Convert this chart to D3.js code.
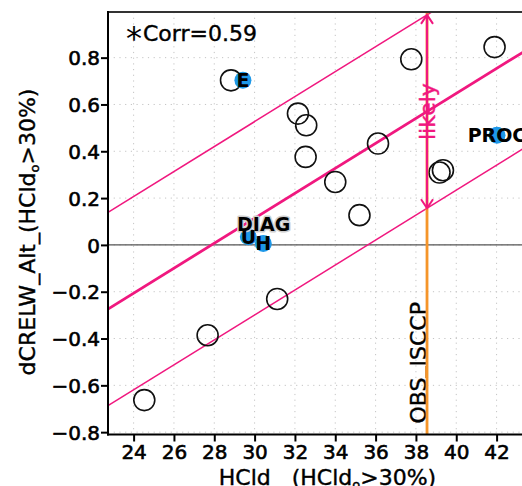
<!DOCTYPE html>
<html><head><meta charset="utf-8">
<script src="https://cdn.jsdelivr.net/npm/d3@7/dist/d3.min.js"></script>
<style>
html,body{margin:0;padding:0;background:#fff;}
svg{display:block;font-family:"DejaVu Sans",sans-serif;}
</style></head>
<body>
<svg id="c" width="522" height="486"></svg>
<script>
// ---- data ----
const modelX = [28.83, 32.15, 32.56, 32.53, 34.0, 36.12, 35.2, 37.77, 41.9, 39.17, 39.34, 31.12, 27.67, 24.53];
const modelY = [0.703, 0.561, 0.511, 0.376, 0.269, 0.433, 0.127, 0.793, 0.845, 0.309, 0.319, -0.231, -0.386, -0.663];
const obsLabels = ["E", "U", "H", "PROC"];
const obsX = [29.42, 29.69, 30.43, 42.02];
const obsY = [0.703, 0.035, 0.006, 0.468];
const diagLabel = ["DIAG"];
const diagX = [30.45];
const diagY = [0.089];
const regSlope = [0.05332];
const regIntercept = [-1.4859];
const bandHalfWidth = [0.413];
const obsIscpX = [38.55];
const xTicks = [24, 26, 28, 30, 32, 34, 36, 38, 40, 42, 44];
const yTicks = [-0.8, -0.6, -0.4, -0.2, 0, 0.2, 0.4, 0.6, 0.8];
const corrText = ["Corr=0.59"];

// ---- layout ----
const L = 108, R = 547, T = 12, B = 434.5;
const pink = "#f0187f", blue = "#1e98e8", orange = "#f5952a";
const svg = d3.select("#c");
const x = d3.scaleLinear().domain([22.73, 44.5]).range([L, R]);
const y = d3.scaleLinear().domain([-0.81, 0.995]).range([B, T]);

svg.append("defs").append("clipPath").attr("id", "clip")
  .append("rect").attr("x", L).attr("y", T).attr("width", R - L).attr("height", B - T);

const g = svg.append("g");
const pg = g.append("g").attr("clip-path", "url(#clip)");

// grid
pg.selectAll(".gx").data(xTicks).join("line")
  .attr("x1", d => x(d)).attr("x2", d => x(d)).attr("y1", T).attr("y2", B)
  .attr("stroke", "#c4c4c4").attr("stroke-width", 1).attr("stroke-dasharray", "1.2,4.5");
pg.selectAll(".gy").data(yTicks).join("line")
  .attr("x1", L).attr("x2", R).attr("y1", d => y(d)).attr("y2", d => y(d))
  .attr("stroke", "#c4c4c4").attr("stroke-width", 1).attr("stroke-dasharray", "1.2,4.5");

// zero line
pg.append("line").attr("x1", L).attr("x2", R).attr("y1", y(0)).attr("y2", y(0))
  .attr("stroke", "#555").attr("stroke-width", 1.2);

// regression & band lines
const xd = x.domain();
const offsets = [-bandHalfWidth[0], 0, bandHalfWidth[0]];
pg.selectAll(".reg").data(offsets).join("line")
  .attr("x1", x(xd[0])).attr("x2", x(xd[1]))
  .attr("y1", d => y(regSlope[0] * xd[0] + regIntercept[0] + d))
  .attr("y2", d => y(regSlope[0] * xd[1] + regIntercept[0] + d))
  .attr("stroke", pink).attr("stroke-width", d => d === 0 ? 2.8 : 1.5);

// model open circles
pg.selectAll(".m").data(modelX).join("circle")
  .attr("cx", d => x(d)).attr("cy", (d, i) => y(modelY[i])).attr("r", 10.5)
  .attr("fill", "none").attr("stroke", "#111").attr("stroke-width", 1.6);

// obs blue circles
pg.selectAll(".o").data(obsX).join("circle")
  .attr("cx", d => x(d)).attr("cy", (d, i) => y(obsY[i])).attr("r", 8.5)
  .attr("fill", blue);

// DIAG label with grey halo
pg.selectAll(".dl").data(diagX).join("text")
  .attr("x", d => x(d)).attr("y", (d, i) => y(diagY[i])).attr("dy", "0.36em")
  .attr("text-anchor", "middle").attr("font-size", 19).attr("font-weight", "bold")
  .attr("fill", "#000").attr("stroke", "#cfcfcf").attr("stroke-width", 3)
  .attr("paint-order", "stroke").attr("stroke-linejoin", "round")
  .text((d, i) => diagLabel[i]);

// obs labels
pg.selectAll(".ol").data(obsX).join("text")
  .attr("x", d => x(d)).attr("y", (d, i) => y(obsY[i])).attr("dy", "0.36em")
  .attr("text-anchor", "middle").attr("font-size", 19).attr("font-weight", "bold")
  .attr("fill", "#000")
  .text((d, i) => obsLabels[i]);

// OBS_ISCCP text (underscore tucked under the orange line)
const ox = x(obsIscpX[0]);
const ot = pg.append("text")
  .attr("transform", `translate(${ox - 1},${B - 11})rotate(-90)`)
  .attr("text-anchor", "start").attr("font-size", 22).attr("fill", "#000")
  .attr("stroke", "#000").attr("stroke-width", 0.4);
ot.append("tspan").text("OBS");
ot.append("tspan").attr("dy", -4.5).text("_");
ot.append("tspan").attr("dy", 4.5).text("ISCCP");

// orange obs line
pg.append("line").attr("x1", ox).attr("x2", ox).attr("y1", T).attr("y2", B)
  .attr("stroke", orange).attr("stroke-width", 2.8);

// likely arrow
const yLo = y(regSlope[0] * obsIscpX[0] + regIntercept[0] - bandHalfWidth[0]);
const yHi = y(regSlope[0] * obsIscpX[0] + regIntercept[0] + bandHalfWidth[0]);
pg.append("line").attr("x1", ox).attr("x2", ox).attr("y1", yHi).attr("y2", yLo)
  .attr("stroke", pink).attr("stroke-width", 2.2);
pg.append("path")
  .attr("d", `M${ox - 6},${yHi + 9}L${ox},${yHi}L${ox + 6},${yHi + 9}M${ox - 6},${yLo - 9}L${ox},${yLo}L${ox + 6},${yLo - 9}`)
  .attr("fill", "none").attr("stroke", pink).attr("stroke-width", 2);
pg.append("text")
  .attr("transform", `translate(${ox + 8},${(y(regSlope[0] * obsIscpX[0] + regIntercept[0])) })rotate(-90)`)
  .attr("text-anchor", "middle").attr("font-size", 22).attr("fill", pink)
  .attr("stroke", pink).attr("stroke-width", 0.4).text("likely");

// axes
const xAxis = d3.axisBottom(x).tickValues(xTicks).tickSize(7).tickFormat(d3.format("d"));
const yAxis = d3.axisLeft(y).tickValues(yTicks).tickSize(7).tickFormat(d => d === 0 ? "0" : d3.format(".1f")(d));
const gx = g.append("g").attr("transform", `translate(0,${B})`).call(xAxis);
const gy = g.append("g").attr("transform", `translate(${L},0)`).call(yAxis);
[gx, gy].forEach(a => {
  a.select(".domain").remove();
  a.selectAll(".tick line").attr("stroke", "#000").attr("stroke-width", 2);
  a.selectAll(".tick text").attr("font-family", "DejaVu Sans").attr("font-size", 20)
    .attr("fill", "#000").attr("stroke", "#000").attr("stroke-width", 0.6);
});
gx.selectAll(".tick text").attr("y", 10).attr("dy", "0.71em");
gy.selectAll(".tick text").attr("x", -8).attr("dy", "0.36em")
  .text(d => d === 0 ? "0" : d3.format(".1f")(d).replace("-", "\u2212"));

// frame
g.append("line").attr("x1", L).attr("x2", R).attr("y1", T).attr("y2", T).attr("stroke", "#333").attr("stroke-width", 2);
g.append("line").attr("x1", L).attr("x2", L).attr("y1", T - 1).attr("y2", B + 1).attr("stroke", "#000").attr("stroke-width", 2);
g.append("line").attr("x1", L - 1).attr("x2", R).attr("y1", B).attr("y2", B).attr("stroke", "#000").attr("stroke-width", 2);

// corr text
g.append("text").attr("x", 126).attr("y", 49).attr("font-size", 32).attr("fill", "#000").text("*");
g.append("text").attr("x", 143).attr("y", 41).attr("font-size", 22).attr("fill", "#000")
  .attr("stroke", "#000").attr("stroke-width", 0.4).text(corrText[0]);

// x title
const xt = g.append("text").attr("x", 327.5).attr("y", 485).attr("text-anchor", "middle")
  .attr("font-size", 22).attr("fill", "#000").attr("stroke", "#000").attr("stroke-width", 0.4);
xt.append("tspan").text("HCld\u00a0\u00a0\u00a0(HCld");
xt.append("tspan").attr("font-size", 13).attr("dy", 4).text("o");
xt.append("tspan").attr("dy", -4).text(">30%)");

// y title
const yt = g.append("text").attr("transform", "translate(35,232)rotate(-90)").attr("text-anchor", "middle")
  .attr("font-size", 22).attr("fill", "#000").attr("stroke", "#000").attr("stroke-width", 0.4);
yt.append("tspan").text("dCRELW_Alt_(HCld");
yt.append("tspan").attr("font-size", 13).attr("dy", 4).text("o");
yt.append("tspan").attr("dy", -4).text(">30%)");
</script>
</body></html>
